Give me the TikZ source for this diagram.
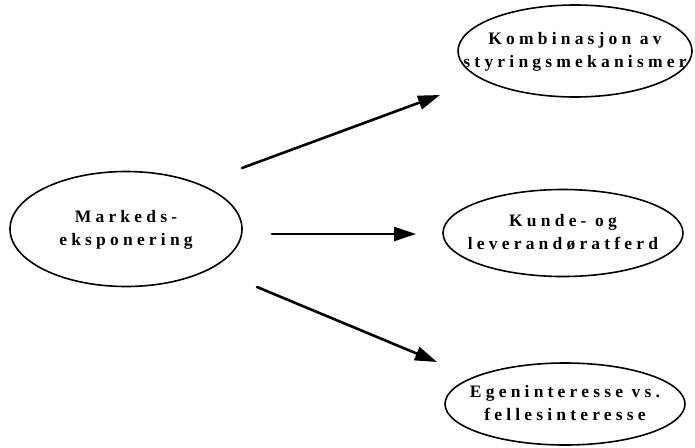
\documentclass[tikz,border=0pt]{standalone}
\usepackage{fontspec}
\setmainfont{Liberation Serif}[LetterSpace=24]
\usetikzlibrary{shapes.geometric,arrows.meta}
\tikzset{
  oval/.style={ellipse, draw, line width=1.6pt, inner sep=0pt,
    font=\fontsize{17.5}{23}\selectfont\bfseries},
  flow/.style={line width=2.6pt, line cap=round,
    -{Triangle[length=22pt,width=14pt]}}
}
% two centred lines, optionally lowered inside the oval
\newcommand{\ovaltext}[3][0pt]{\makebox[0pt]{\raisebox{-#1}{\begin{tabular}{@{}c@{}}#2\\#3\end{tabular}}}}
\begin{document}
\begin{tikzpicture}[x=1pt,y=-1pt]
  \useasboundingbox (0,0) rectangle (695,447);
  \node[oval, minimum width=232pt, minimum height=115pt] (mark) at (126,229)
    {\ovaltext[3pt]{Markeds-}{eksponering}};
  \node[oval, minimum width=234pt, minimum height=92pt] (komb) at (575,51)
    {\ovaltext[3pt]{Kombinasjon av}{styringsmekanismer}};
  \node[oval, minimum width=240pt, minimum height=87pt] (kund) at (563,233)
    {\ovaltext[2pt]{Kunde- og}{leverandøratferd}};
  \node[oval, minimum width=240pt, minimum height=82pt] (egen) at (565,404)
    {\ovaltext{Egeninteresse vs.}{fellesinteresse}};
  % arrow ends, kept clear of the ovals
  \coordinate (a1) at (242,168);
  \coordinate (b1) at (440,95);
  \coordinate (a2) at (272,234);
  \coordinate (b2) at (416,234);
  \coordinate (a3) at (257,287);
  \coordinate (b3) at (437,362);
  \draw[flow] (a1) -- (b1);
  \draw[flow] (a2) -- (b2);
  \draw[flow] (a3) -- (b3);
\end{tikzpicture}
\end{document}
